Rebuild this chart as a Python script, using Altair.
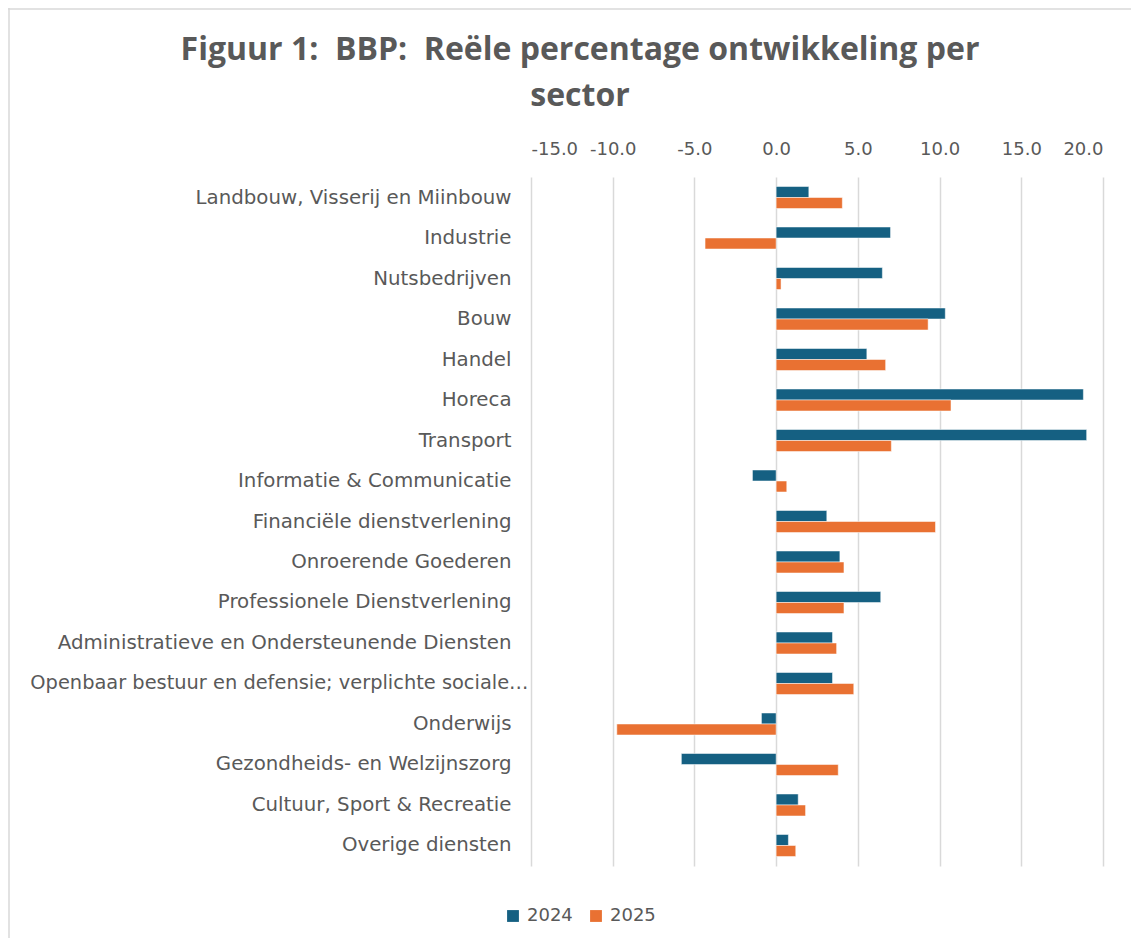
import altair as alt
import pandas as pd

categories = [
    "Landbouw, Visserij en Miinbouw",
    "Industrie",
    "Nutsbedrijven",
    "Bouw",
    "Handel",
    "Horeca",
    "Transport",
    "Informatie & Communicatie",
    "Financiële dienstverlening",
    "Onroerende Goederen",
    "Professionele Dienstverlening",
    "Administratieve en Ondersteunende Diensten",
    "Openbaar bestuur en defensie; verplichte sociale…",
    "Onderwijs",
    "Gezondheids- en Welzijnszorg",
    "Cultuur, Sport & Recreatie",
    "Overige diensten",
]
v2024 = [2.0, 7.0, 6.5, 10.35, 5.55, 18.8, 19.0, -1.45, 3.1, 3.9, 6.4, 3.45, 3.45, -0.9, -5.8, 1.35, 0.75]
v2025 = [4.05, -4.35, 0.3, 9.3, 6.7, 10.7, 7.05, 0.65, 9.75, 4.15, 4.15, 3.7, 4.75, -9.75, 3.8, 1.8, 1.2]
series = ["2024", "2025"]
colors = ["#156082", "#E97132"]
x_ticks = [-15, -10, -5, 0, 5, 10, 15, 20]

rows = []
for c, a, b in zip(categories, v2024, v2025):
    rows.append({"sector": c, "jaar": "2024", "waarde": a})
    rows.append({"sector": c, "jaar": "2025", "waarde": b})
df = pd.DataFrame(rows)

FONT = "DejaVu Sans"
TFONT = "Open Sans"
GREY = "#595959"
W, H = 572, 689
LONG = categories[12]
long_test = "datum.value == '" + LONG + "'"

bars = alt.Chart(df).mark_bar(stroke="white", strokeWidth=0.5).encode(
    x=alt.X("waarde:Q",
            scale=alt.Scale(domain=[-15, 20], nice=False, zero=False),
            axis=alt.Axis(orient="top", values=x_ticks, title=None,
                          labelExpr="datum.value < 0 ? '-' + format(-datum.value, '.1f') : format(datum.value, '.1f')",
                          domain=False, ticks=False, grid=True, gridColor="#d9d9d9",
                          gridWidth=1.5, labelFont=FONT, labelFontSize=18,
                          labelColor=GREY, labelPadding=19)),
    y=alt.Y("sector:N", sort=categories,
            scale=alt.Scale(paddingInner=0.457, paddingOuter=0.235),
            axis=alt.Axis(title=None, domain=False, ticks=False, labelFont=FONT,
                          labelFontSize=alt.condition(long_test, alt.value(19.4), alt.value(19.8)),
                          labelPadding=alt.condition(long_test, alt.value(3), alt.value(20)),
                          labelColor=GREY, labelLimit=600)),
    yOffset=alt.YOffset("jaar:N", sort=series, scale=alt.Scale(paddingInner=0, paddingOuter=0)),
    color=alt.Color("jaar:N", sort=series,
                    scale=alt.Scale(domain=series, range=colors),
                    legend=alt.Legend(title=None, orient="none", direction="horizontal",
                                      legendX=-27, legendY=730, symbolType="square",
                                      symbolSize=140, symbolStrokeWidth=0,
                                      labelFont=FONT, labelFontSize=18, labelColor=GREY,
                                      labelOffset=5, columnPadding=14)),
)

frame_df = pd.DataFrame({"k": [0]})
top_line = alt.Chart(frame_df).mark_rule(color="#d9d9d9", strokeWidth=1.5).encode(
    x=alt.value(-523), x2=alt.value(W + 30), y=alt.value(-168)
)
left_line = alt.Chart(frame_df).mark_rule(color="#d9d9d9", strokeWidth=1.5).encode(
    x=alt.value(-522), y=alt.value(-169), y2=alt.value(H + 72)
)

chart = alt.layer(bars, top_line, left_line).properties(
    width=W,
    height=H,
    autosize=alt.AutoSizeParams(type="none"),
    padding={"left": 523, "top": 169, "right": 28, "bottom": 72},
    title=alt.TitleParams(
        text=["Figuur 1:\u00a0 BBP:\u00a0 Reële percentage ontwikkeling per", "sector"],
        anchor="middle", frame="group", dx=-237, offset=30, dy=136,
        font=TFONT, fontSize=32, fontWeight="bold", color=GREY, lineHeight=46,
    ),
).configure_view(stroke=None)

chart.save("out.html", embed_options={"renderer": "svg", "actions": False})
